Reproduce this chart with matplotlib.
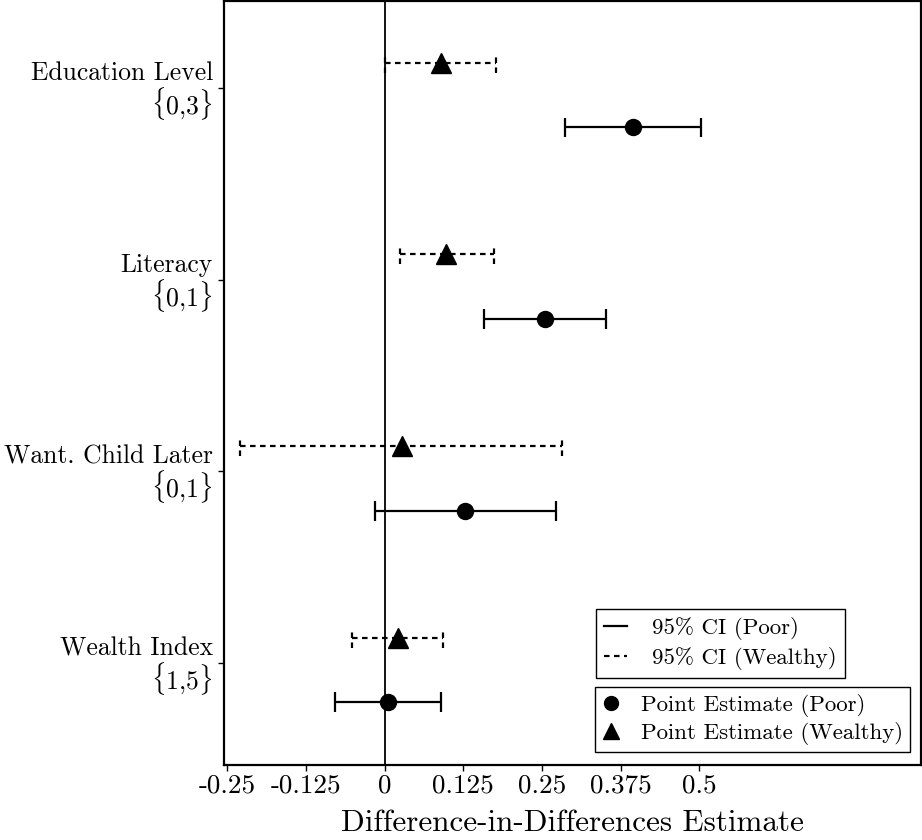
import matplotlib
matplotlib.use("Agg")
import matplotlib.pyplot as plt
from matplotlib.lines import Line2D

plt.rcParams["font.family"] = "cmr10"
plt.rcParams["mathtext.fontset"] = "cm"
plt.rcParams["axes.unicode_minus"] = False
plt.rcParams["axes.formatter.use_mathtext"] = True

# Outcomes, top to bottom
labels = ["Education Level\n$\\{$0,3$\\}$",
          "Literacy\n$\\{$0,1$\\}$",
          "Want. Child Later\n$\\{$0,1$\\}$",
          "Wealth Index\n$\\{$1,5$\\}$"]

# Poor households (circle, solid CI)
poor_est = [0.394, 0.254, 0.128, 0.006]
poor_lo = [0.286, 0.158, -0.015, -0.079]
poor_hi = [0.502, 0.351, 0.272, 0.089]

# Wealthy households (triangle, dashed CI)
wealthy_est = [0.090, 0.098, 0.027, 0.021]
wealthy_lo = [0.000, 0.025, -0.230, -0.051]
wealthy_hi = [0.177, 0.173, 0.282, 0.092]

xticks = [-0.25, -0.125, 0, 0.125, 0.25, 0.375, 0.5]
xtick_labels = ["-0.25", "-0.125", "0", "0.125", "0.25", "0.375", "0.5"]

fig = plt.figure(figsize=(9.22, 8.4), dpi=100)
ax = fig.add_axes([0.243, 0.089, 0.756, 0.910])

n = len(labels)
pos = [n - 1 - i for i in range(n)]
y_w = [p + 0.167 for p in pos]
y_p = [p - 0.17 for p in pos]
cap = 0.052
dash = (0, (2.5, 2))

ax.axvline(0, color="black", lw=1.3, zorder=1)

# Poor: solid CI with caps
ax.hlines(y_p, poor_lo, poor_hi, color="black", lw=1.6)
ax.vlines(poor_lo + poor_hi, [y - cap for y in y_p] * 2, [y + cap for y in y_p] * 2,
          color="black", lw=1.6)
ax.plot(poor_est, y_p, "o", color="black", ms=11.5, zorder=3)

# Wealthy: dashed CI with dashed caps
ax.hlines(y_w, wealthy_lo, wealthy_hi, color="black", lw=1.6, linestyles=[dash])
ax.vlines(wealthy_lo + wealthy_hi, [y - cap for y in y_w] * 2, [y + cap for y in y_w] * 2,
          color="black", lw=1.6, linestyles=[dash])
ax.plot(wealthy_est, y_w, "^", color="black", ms=14, zorder=3)

ax.set_xlim(-0.255, 0.852)
ax.set_ylim(-0.499, 3.491)
ax.set_xticks(xticks)
ax.set_xticklabels(xtick_labels)
ax.set_yticks([p + 0.036 for p in pos])
ax.set_yticklabels(labels, linespacing=1.0)
ax.tick_params(axis="x", labelsize=19.5, length=4, width=1, direction="out", pad=2)
ax.tick_params(axis="y", labelsize=18.5, length=4, width=1, direction="out", pad=4)
ax.set_xlabel("Difference-in-Differences Estimate", fontsize=22.4, labelpad=9)
for s in ax.spines.values():
    s.set_linewidth(1.6)

h1 = [Line2D([], [], color="black", lw=1.6),
      Line2D([], [], color="black", lw=1.6, linestyle=dash)]
leg1 = ax.legend(h1, ["95% CI (Poor)", "95% CI (Wealthy)"], loc="upper left",
                 bbox_to_anchor=(0.534, 0.204), borderaxespad=0, fontsize=16.5,
                 fancybox=False, edgecolor="black", framealpha=1,
                 handlelength=1.0, handletextpad=1.1, borderpad=0.35,
                 labelspacing=0.28)
leg1.get_frame().set_linewidth(1.0)
ax.add_artist(leg1)

h2 = [Line2D([], [], color="black", marker="o", ms=10, lw=0),
      Line2D([], [], color="black", marker="^", ms=12, lw=0)]
leg2 = ax.legend(h2, ["Point Estimate (Poor)", "Point Estimate (Wealthy)"],
                 loc="upper left", bbox_to_anchor=(0.532, 0.102), borderaxespad=0,
                 fontsize=16.5, fancybox=False, edgecolor="black", framealpha=1,
                 handlelength=0.8, handletextpad=0.9, borderpad=0.3,
                 labelspacing=0.2)
leg2.get_frame().set_linewidth(1.0)

fig.savefig("out.png", dpi=100)
